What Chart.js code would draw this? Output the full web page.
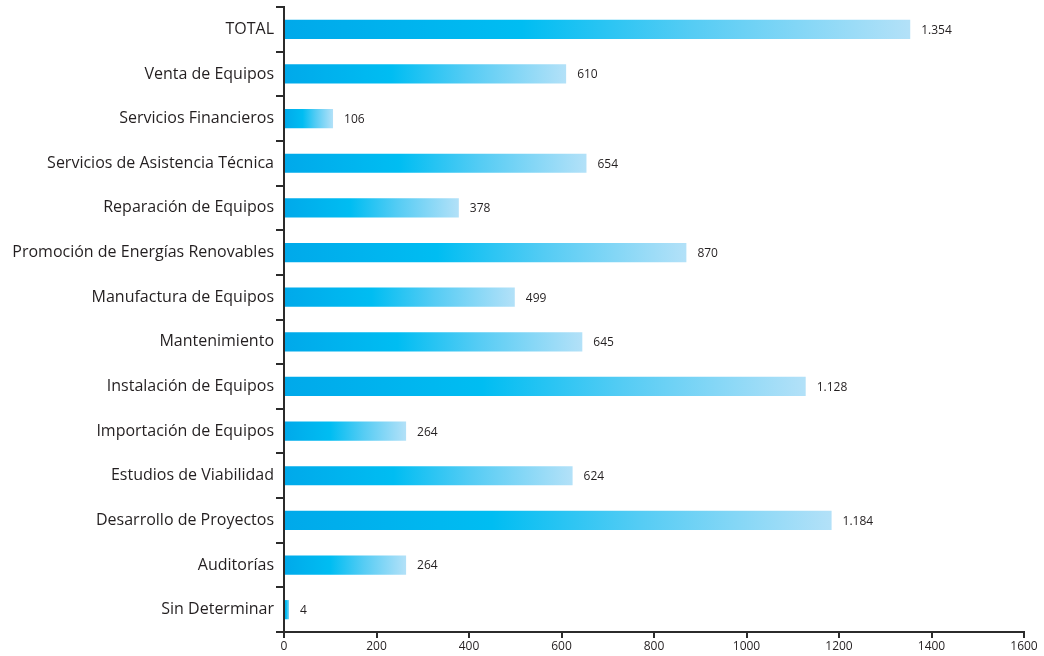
<!DOCTYPE html>
<html>
<head>
<meta charset="utf-8">
<script src="https://cdn.jsdelivr.net/npm/chart.js@4/dist/chart.umd.min.js"></script>
<style>
  html, body { margin: 0; padding: 0; background: #fff; }
  #wrap { width: 1044px; height: 656px; }
</style>
</head>
<body>
<div id="wrap"><canvas id="servChart"></canvas></div>
<script>
const categories = [
  'TOTAL', 'Venta de Equipos', 'Servicios Financieros', 'Servicios de Asistencia Técnica',
  'Reparación de Equipos', 'Promoción de Energías Renovables', 'Manufactura de Equipos',
  'Mantenimiento', 'Instalación de Equipos', 'Importación de Equipos',
  'Estudios de Viabilidad', 'Desarrollo de Proyectos', 'Auditorías', 'Sin Determinar'
];
const values = [1354, 610, 106, 654, 378, 870, 499, 645, 1128, 264, 624, 1184, 264, 4];
const xTicks = [0, 200, 400, 600, 800, 1000, 1200, 1400, 1600];

const axisColor = '#2b2b2b';
const textColor = '#231f20';

function fmt(v) {
  return String(v).replace(/\B(?=(\d{3})+(?!\d))/g, '.');
}

// each bar gets its own gradient, from the axis to the bar end
function barFill(ctx) {
  const chart = ctx.chart;
  if (!chart.chartArea || ctx.type !== 'data') return '#00b9f1';
  const x = chart.scales.x;
  const x0 = x.getPixelForValue(0);
  const x1 = Math.max(x.getPixelForValue(values[ctx.dataIndex]), x0 + 6);
  const g = chart.ctx.createLinearGradient(x0, 0, x1, 0);
  g.addColorStop(0, '#00a9ea');
  g.addColorStop(0.38, '#00bdf2');
  g.addColorStop(0.65, '#55ccf4');
  g.addColorStop(1, '#b3e1f8');
  return g;
}

const valueLabels = {
  id: 'valueLabels',
  afterDatasetsDraw(chart) {
    const c = chart.ctx;
    const meta = chart.getDatasetMeta(0);
    c.save();
    c.font = '12px "Open Sans"';
    c.fillStyle = textColor;
    c.textBaseline = 'middle';
    meta.data.forEach((bar, i) => {
      c.fillText(fmt(values[i]), bar.x + 11, bar.y + 1);
    });
    c.restore();
  }
};

new Chart(document.getElementById('servChart'), {
  type: 'bar',
  data: {
    labels: categories,
    datasets: [{
      data: values,
      backgroundColor: barFill,
      borderWidth: 0,
      barPercentage: 0.43,
      categoryPercentage: 1,
      minBarLength: 5
    }]
  },
  options: {
    indexAxis: 'y',
    responsive: true,
    maintainAspectRatio: false,
    animation: false,
    layout: { padding: { top: 7, right: 20, left: 8, bottom: 0 } },
    plugins: {
      legend: { display: false },
      tooltip: { enabled: false }
    },
    scales: {
      x: {
        min: 0,
        max: 1600,
        afterBuildTicks: (s) => { s.ticks = xTicks.map(v => ({ value: v })); },
        afterFit: (s) => { s.height = 24; },
        border: { display: true, color: axisColor, width: 2 },
        grid: {
          drawOnChartArea: false,
          drawTicks: true,
          tickLength: 6,
          color: axisColor,
          lineWidth: 2
        },
        ticks: {
          color: textColor,
          font: { family: 'Open Sans', size: 12 },
          padding: 1,
          callback: (v) => String(v)
        }
      },
      y: {
        afterFit: (s) => {
          s.width = 276;
          s.paddingTop = 0;
          s.paddingBottom = 0;
        },
        border: { display: true, color: axisColor, width: 2 },
        grid: {
          offset: true,
          drawOnChartArea: false,
          drawTicks: true,
          tickLength: 8,
          color: axisColor,
          lineWidth: 2
        },
        ticks: {
          color: textColor,
          font: { family: 'Open Sans', size: 16 },
          padding: 2
        }
      }
    }
  },
  plugins: [valueLabels]
});
</script>
</body>
</html>
